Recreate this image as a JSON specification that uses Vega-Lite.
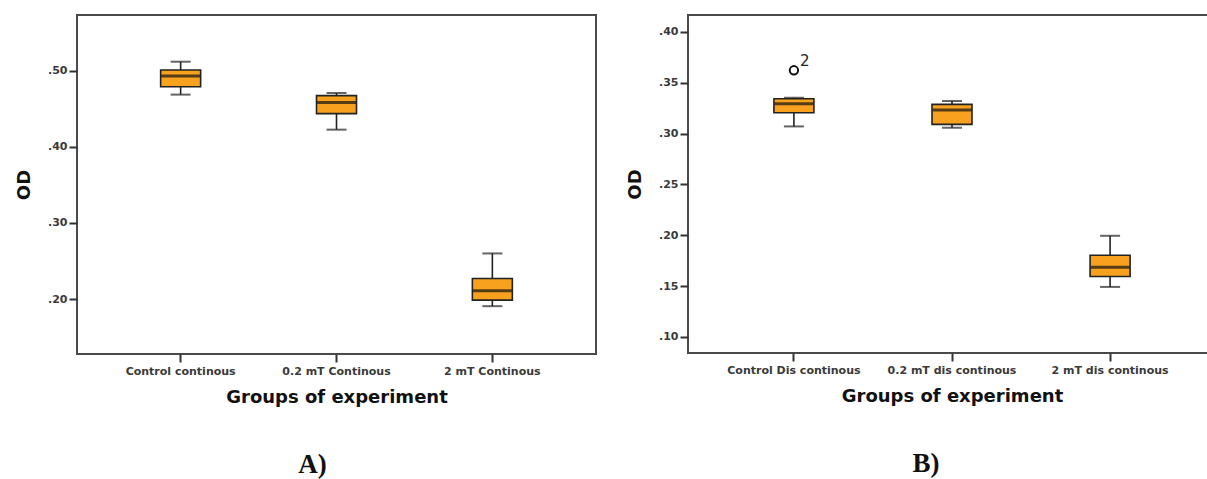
{
  "$schema": "https://vega.github.io/schema/vega-lite/v6.json",
  "padding": {"left": 14, "top": 14, "right": 0, "bottom": 0},
  "background": "white",
  "config": {
    "view": {"stroke": "#4a4a4a", "strokeWidth": 2},
    "font": "DejaVu Sans",
    "axis": {
      "labelFont": "DejaVu Sans",
      "labelFontSize": 11,
      "labelFontWeight": "bold",
      "labelColor": "#3a3a3a",
      "titleFont": "DejaVu Sans",
      "titleFontWeight": "bold",
      "titleFontSize": 18,
      "titleColor": "#111111",
      "tickColor": "#333333",
      "tickWidth": 2,
      "domain": false,
      "grid": false
    },
    "concat": {"spacing": 28}
  },
  "datasets": {
    "A": [
      {"group": "Control continous", "lo": 0.4685, "q1": 0.4789, "med": 0.4930, "q3": 0.5008, "hi": 0.5117},
      {"group": "0.2 mT Continous", "lo": 0.4225, "q1": 0.4435, "med": 0.4580, "q3": 0.4672, "hi": 0.4706},
      {"group": "2 mT Continous", "lo": 0.1908, "q1": 0.1987, "med": 0.2110, "q3": 0.2272, "hi": 0.2600}
    ],
    "B": [
      {"group": "Control Dis continous", "lo": 0.3071, "q1": 0.3205, "med": 0.3294, "q3": 0.3343, "hi": 0.3353},
      {"group": "0.2 mT dis continous", "lo": 0.3058, "q1": 0.3091, "med": 0.3232, "q3": 0.3288, "hi": 0.3321},
      {"group": "2 mT dis continous", "lo": 0.1492, "q1": 0.1594, "med": 0.1686, "q3": 0.1804, "hi": 0.1995}
    ],
    "Bout": [
      {"group": "Control Dis continous", "value": 0.3623, "label": "2"}
    ]
  },
  "hconcat": [
    {
      "width": 519,
      "height": 339,
      "title": {"text": "A)", "orient": "bottom", "font": "Liberation Serif", "fontSize": 27, "fontWeight": "bold", "color": "#111111", "dx": -24, "offset": 46},
      "data": {"name": "A"},
      "encoding": {
        "x": {
          "field": "group", "type": "nominal",
          "sort": ["Control continous", "0.2 mT Continous", "2 mT Continous"],
          "scale": {"type": "band", "paddingInner": 0, "paddingOuter": 0.165},
          "axis": {"title": "Groups of experiment", "labelAngle": 0, "tickSize": 8, "labelPadding": 3, "titlePadding": 12}
        }
      },
      "layer": [
        {
          "mark": {"type": "rule", "color": "#222222", "strokeWidth": 1.6},
          "encoding": {
            "y": {"field": "lo", "type": "quantitative", "scale": {"domain": [0.128, 0.573], "nice": false, "zero": false},
                  "axis": {"title": "OD", "values": [0.2, 0.3, 0.4, 0.5], "labelExpr": "slice(format(datum.value, '.2f'), 1)", "tickSize": 8, "labelPadding": 2, "titlePadding": 14}},
            "y2": {"field": "hi"}
          }
        },
        {
          "mark": {"type": "tick", "color": "#222222", "size": 20, "thickness": 2},
          "encoding": {"y": {"field": "lo", "type": "quantitative"}}
        },
        {
          "mark": {"type": "tick", "color": "#222222", "size": 20, "thickness": 2},
          "encoding": {"y": {"field": "hi", "type": "quantitative"}}
        },
        {
          "mark": {"type": "bar", "size": 40, "fill": "#F7A11F", "stroke": "#222222", "strokeWidth": 1.6},
          "encoding": {"y": {"field": "q1", "type": "quantitative"}, "y2": {"field": "q3"}}
        },
        {
          "mark": {"type": "tick", "color": "#111111", "size": 39, "thickness": 3},
          "encoding": {"y": {"field": "med", "type": "quantitative"}}
        }
      ]
    },
    {
      "width": 520,
      "height": 338,
      "title": {"text": "B)", "orient": "bottom", "font": "Liberation Serif", "fontSize": 27, "fontWeight": "bold", "color": "#111111", "dx": -22, "offset": 46},
      "encoding": {
        "x": {
          "field": "group", "type": "nominal",
          "sort": ["Control Dis continous", "0.2 mT dis continous", "2 mT dis continous"],
          "scale": {"type": "band", "paddingInner": 0, "paddingOuter": 0.17, "range": [0, 528], "domain": ["Control Dis continous", "0.2 mT dis continous", "2 mT dis continous"]},
          "axis": {"title": "Groups of experiment", "labelAngle": 0, "tickSize": 8, "labelPadding": 3, "titlePadding": 12}
        }
      },
      "layer": [
        {
          "data": {"name": "B"},
          "mark": {"type": "rule", "color": "#222222", "strokeWidth": 1.6},
          "encoding": {
            "y": {"field": "lo", "type": "quantitative", "scale": {"domain": [0.0842, 0.4167], "nice": false, "zero": false},
                  "axis": {"title": "OD", "values": [0.1, 0.15, 0.2, 0.25, 0.3, 0.35, 0.4], "labelExpr": "slice(format(datum.value, '.2f'), 1)", "tickSize": 8, "labelPadding": 2, "titlePadding": 14}},
            "y2": {"field": "hi"}
          }
        },
        {
          "data": {"name": "B"},
          "mark": {"type": "tick", "color": "#222222", "size": 20, "thickness": 2},
          "encoding": {"y": {"field": "lo", "type": "quantitative"}}
        },
        {
          "data": {"name": "B"},
          "mark": {"type": "tick", "color": "#222222", "size": 20, "thickness": 2},
          "encoding": {"y": {"field": "hi", "type": "quantitative"}}
        },
        {
          "data": {"name": "B"},
          "mark": {"type": "bar", "size": 40, "fill": "#F7A11F", "stroke": "#222222", "strokeWidth": 1.6},
          "encoding": {"y": {"field": "q1", "type": "quantitative"}, "y2": {"field": "q3"}}
        },
        {
          "data": {"name": "B"},
          "mark": {"type": "tick", "color": "#111111", "size": 39, "thickness": 3},
          "encoding": {"y": {"field": "med", "type": "quantitative"}}
        },
        {
          "data": {"name": "Bout"},
          "mark": {"type": "point", "shape": "circle", "size": 70, "filled": false, "opacity": 1, "stroke": "#111111", "strokeWidth": 2},
          "encoding": {"y": {"field": "value", "type": "quantitative"}}
        },
        {
          "data": {"name": "Bout"},
          "mark": {"type": "text", "dx": 6, "dy": -9, "align": "left", "fontSize": 15, "font": "DejaVu Sans", "color": "#222222"},
          "encoding": {"y": {"field": "value", "type": "quantitative"}, "text": {"field": "label"}}
        }
      ]
    }
  ]
}
